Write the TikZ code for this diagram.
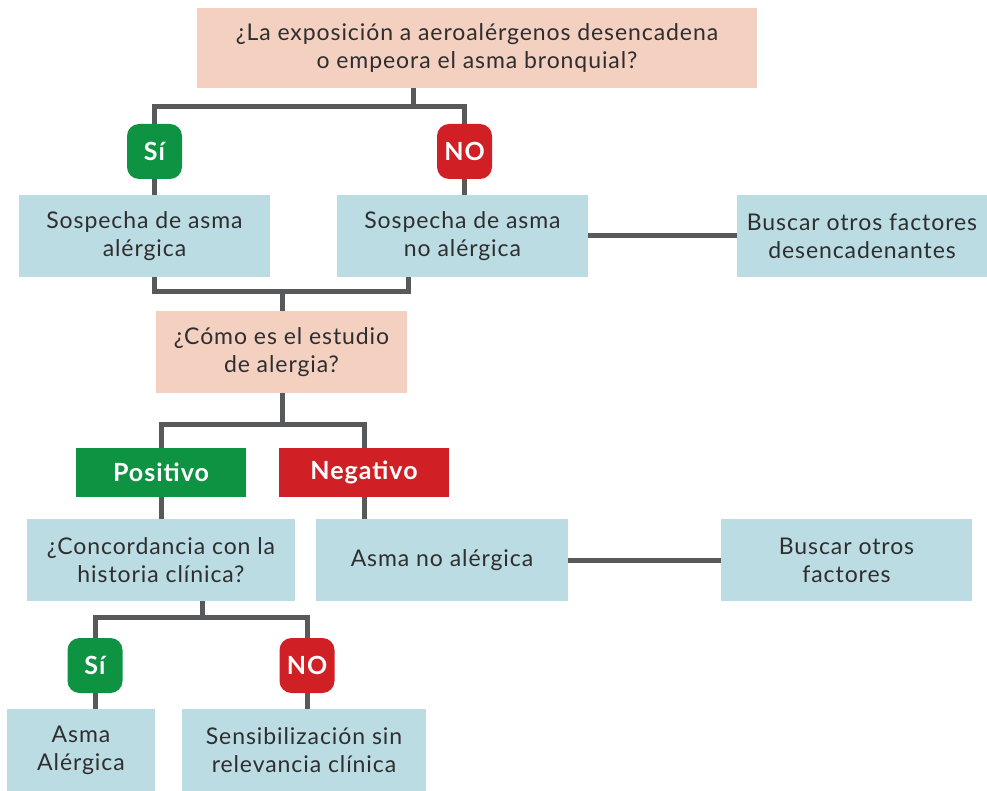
\documentclass[tikz,border=0pt]{standalone}
\usepackage{fontspec}
\setmainfont{Lato}[LetterSpace=4]
\definecolor{peach}{HTML}{F4D0C1}
\definecolor{lblue}{HTML}{BCDCE4}
\definecolor{gr}{HTML}{0E9343}
\definecolor{rd}{HTML}{D11F26}
\definecolor{ln}{HTML}{58595B}
\definecolor{tx}{HTML}{2E2E2E}
\begin{document}
\begin{tikzpicture}[x=1pt,y=-1pt,
  box/.style={fill=lblue, inner sep=0pt, align=center, text=tx,
    font=\fontsize{23}{28}\selectfont},
  qbox/.style={box, fill=peach},
  badge/.style={inner sep=0pt, minimum width=55pt, minimum height=55pt,
    rounded corners=12pt, text=white, font=\bfseries\fontsize{25}{28}\selectfont},
  yes/.style={badge, fill=gr},
  no/.style={badge, fill=rd},
  tag/.style={inner sep=0pt, minimum width=170pt, minimum height=49pt,
    text=white, font=\bfseries\fontsize{25}{28}\selectfont},
  conn/.style={draw=ln, line width=5pt, line join=miter}
]
\path[use as bounding box] (0,0) rectangle (987,791);

\node[qbox, minimum width=560pt, minimum height=80pt] (q1) at (477,48)
  {¿La exposición a aeroalérgenos desencadena\\o empeora el asma bronquial?};
\node[yes] (si1) at (154.5,151.5) {Sí};
\node[no] (no1) at (464.5,151.5) {NO};
\node[box, minimum width=251pt, minimum height=82pt] (sa) at (144.5,236) {Sospecha de asma\\alérgica};
\node[box, minimum width=251pt, minimum height=82pt] (sn) at (462.5,236) {Sospecha de asma\\no alérgica};
\node[box, minimum width=250pt, minimum height=82pt] (b1) at (862,236) {Buscar otros factores\\desencadenantes};
\node[qbox, minimum width=251pt, minimum height=82pt] (q2) at (281.5,352) {¿Cómo es el estudio\\de alergia?};
\node[tag, fill=gr] (pos) at (161,472.5) {Positivo};
\node[tag, fill=rd] (neg) at (364,472.5) {Negativo};
\node[box, minimum width=268pt, minimum height=82pt] (cc) at (161,560) {¿Concordancia con la\\historia clínica?};
\node[box, minimum width=252pt, minimum height=82pt] (an) at (442,560) {Asma no alérgica};
\node[box, minimum width=251pt, minimum height=82pt] (b2) at (846.5,560) {Buscar otros\\factores};
\node[yes] (si2) at (95,665.5) {Sí};
\node[no] (no2) at (307,665.5) {NO};
\node[box, minimum width=148pt, minimum height=82pt] (aa) at (81,750) {Asma\\Alérgica};
\node[box, minimum width=244pt, minimum height=82pt] (sr) at (304,750) {Sensibilización sin\\relevancia clínica};

\coordinate (j1) at (413,107);
\coordinate (j2) at (282,292);
\coordinate (j3) at (282,424);
\coordinate (j4) at (202,617);

\draw[conn] (j1) -- (j1 |- q1.south);
\draw[conn] (si1.north) |- (j1) -| (no1.north);
\draw[conn] (si1.south) -- (si1.south |- sa.north);
\draw[conn] (no1.south) -- (no1.south |- sn.north);
\draw[conn] (sn.east) -- (b1.west);
\draw[conn] (sa.south -| si1) |- (j2) -| (408,277);
\draw[conn] (j2) -- (q2.north -| j2);
\draw[conn] (j3) -- (q2.south -| j3);
\draw[conn] (pos.north) |- (j3) -| (neg.north);
\draw[conn] (pos.south) -- (cc.north -| pos);
\draw[conn] (neg.south) -- (an.north -| neg);
\draw[conn] (an.east) -- (b2.west);
\draw[conn] (j4) -- (cc.south -| j4);
\draw[conn] (si2.north) |- (j4) -| (no2.north);
\draw[conn] (si2.south) -- (aa.north -| si2);
\draw[conn] (no2.south) -- (sr.north -| no2);
\end{tikzpicture}
\end{document}
